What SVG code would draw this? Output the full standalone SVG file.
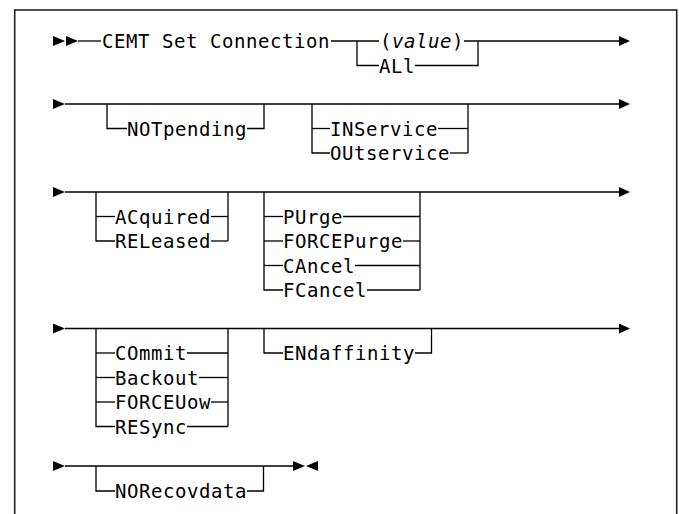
<svg xmlns="http://www.w3.org/2000/svg" xmlns:xlink="http://www.w3.org/1999/xlink" width="679" height="514" viewBox="0 0 679 514">
<defs>
<style>
.t{font-family:"DejaVu Sans Mono","Liberation Mono",monospace;font-size:19px;letter-spacing:0.56px;fill:#000}
.c path{fill:none;stroke:#000;stroke-width:1.3}
.frame{fill:none;stroke:#222;stroke-width:1.6}
</style>
<marker id="arr" markerUnits="userSpaceOnUse" markerWidth="12" markerHeight="10" refX="0" refY="5" orient="auto">
<path d="M0,0 L11,5 L0,10 z" fill="#000"/>
</marker>
<path id="rt" d="M0,-5 L12,0 L0,5 z" fill="#000"/>
<path id="lt" d="M0,-5 L-12,0 L0,5 z" fill="#000"/>
</defs>
<rect width="679" height="514" fill="#fff"/>
<rect class="frame" x="14.7" y="10" width="662" height="530"/>

<g id="connectors" class="c">
<!-- row 1 -->
<use href="#rt" x="53" y="41"/>
<use href="#rt" x="66" y="41"/>
<path d="M78,41 H101"/>
<path d="M331,41 H379"/>
<path d="M464,41 H619" marker-end="url(#arr)"/>
<path d="M357,41 V65.5 H379"/>
<path d="M415,65.5 H478 V41"/>
<!-- row 2 -->
<use href="#rt" x="53" y="104"/>
<path d="M65,104 H619" marker-end="url(#arr)"/>
<path d="M107,104 V128.5 H127"/>
<path d="M247,128.5 H264 V104"/>
<path d="M312,104 V153 H330"/>
<path d="M312,128.5 H330"/>
<path d="M438,128.5 H468"/>
<path d="M450,153 H468"/>
<path d="M468,104 V153"/>
<!-- row 3 -->
<use href="#rt" x="53" y="192"/>
<path d="M65,192 H619" marker-end="url(#arr)"/>
<path d="M96,192 V241 H115"/>
<path d="M96,216.5 H115"/>
<path d="M211,216.5 H228"/>
<path d="M211,241 H228"/>
<path d="M228,192 V241"/>
<path d="M264,192 V290 H283"/>
<path d="M264,216.5 H283"/>
<path d="M264,241 H283"/>
<path d="M264,265.5 H283"/>
<path d="M343,216.5 H420"/>
<path d="M403,241 H420"/>
<path d="M355,265.5 H420"/>
<path d="M367,290 H420"/>
<path d="M420,192 V290"/>
<!-- row 4 -->
<use href="#rt" x="53" y="328.5"/>
<path d="M65,328.5 H619" marker-end="url(#arr)"/>
<path d="M96,328.5 V426.5 H115"/>
<path d="M96,353 H115"/>
<path d="M96,377.5 H115"/>
<path d="M96,402 H115"/>
<path d="M187,353 H228"/>
<path d="M199,377.5 H228"/>
<path d="M211,402 H228"/>
<path d="M187,426.5 H228"/>
<path d="M228,328.5 V426.5"/>
<path d="M264,328.5 V353 H283"/>
<path d="M415,353 H431.5 V328.5"/>
<!-- row 5 -->
<use href="#rt" x="53" y="466"/>
<path d="M65,466 H293"/>
<use href="#rt" x="293" y="466"/>
<use href="#lt" x="318" y="466"/>
<path d="M96,466 V491 H115"/>
<path d="M247,491 H263.5 V466"/>
</g>

<g id="n-cemt"><text class="t" x="102" y="48">CEMT Set Connection</text></g>
<g id="n-value"><text class="t" x="380" y="48">(<tspan font-style="italic">value</tspan>)</text></g>
<g id="n-all"><text class="t" x="379" y="72.5">ALl</text></g>
<g id="n-notpending"><text class="t" x="127" y="135.5">NOTpending</text></g>
<g id="n-inservice"><text class="t" x="330" y="135.5">INService</text></g>
<g id="n-outservice"><text class="t" x="330" y="160">OUtservice</text></g>
<g id="n-acquired"><text class="t" x="115" y="223.5">ACquired</text></g>
<g id="n-released"><text class="t" x="115" y="248">RELeased</text></g>
<g id="n-purge"><text class="t" x="283" y="223.5">PUrge</text></g>
<g id="n-forcepurge"><text class="t" x="283" y="248">FORCEPurge</text></g>
<g id="n-cancel"><text class="t" x="283" y="272.5">CAncel</text></g>
<g id="n-fcancel"><text class="t" x="283" y="297">FCancel</text></g>
<g id="n-commit"><text class="t" x="115" y="360">COmmit</text></g>
<g id="n-backout"><text class="t" x="115" y="384.5">Backout</text></g>
<g id="n-forceuow"><text class="t" x="115" y="409">FORCEUow</text></g>
<g id="n-resync"><text class="t" x="115" y="433.5">RESync</text></g>
<g id="n-endaffinity"><text class="t" x="283" y="360">ENdaffinity</text></g>
<g id="n-norecovdata"><text class="t" x="115" y="498">NORecovdata</text></g>
</svg>
